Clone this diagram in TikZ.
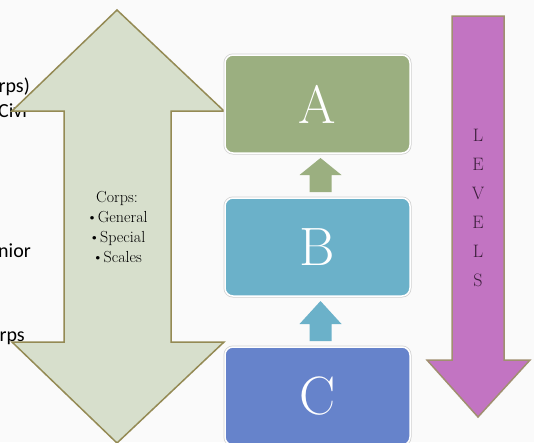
\documentclass[tikz,border=0pt]{standalone}
\usepackage{fontspec}
\newfontfamily\sidefont{Carlito}
\usetikzlibrary{positioning,calc}

\definecolor{corpsfill}{HTML}{D7DFCC}
\definecolor{corpsline}{HTML}{948A54}
\definecolor{levelA}{HTML}{9BAF80}
\definecolor{levelB}{HTML}{6BB1C9}
\definecolor{levelC}{HTML}{6683CB}
\definecolor{levelsfill}{HTML}{C274C2}
\definecolor{levelsline}{HTML}{A08F70}
\definecolor{levelstext}{HTML}{3B1E3B}

\tikzset{
    levelbox/.style={rectangle, rounded corners=8pt, minimum width=185pt, minimum height=98pt,
        inner sep=0pt, outer sep=0pt, draw=white, line width=1.5pt,
        preaction={draw=black!18, line width=3pt},
        text=white, font=\fontsize{54}{54}\selectfont},
    sidetext/.style={font=\sidefont\fontsize{20}{24}\selectfont, inner sep=0pt},
}

\begin{document}
\begin{tikzpicture}[x=1pt,y=1pt]
        \fill[black!2] (0,0) rectangle (534,-442);
        \useasboundingbox (0,0) rectangle (534,-442);

        % text lines running under the big arrow
        \node[sidetext, anchor=base east] (corpsend) at (30,-92) {rps)};
        \node[sidetext, anchor=base west] (civil) at (-2,-117) {Civi};
        \node[sidetext, anchor=base east] (senior) at (31,-257) {nior};
        \node[sidetext, anchor=base east] (corpsbot) at (25,-341) {rps};

        % double arrow with the corps
        \draw[corpsline, fill=corpsfill, line width=1.5pt]
            (117,-10) -- (224,-111) -- (171,-111) -- (171,-342) -- (224,-342)
            -- (117,-443) -- (12,-342) -- (64,-342) -- (64,-111) -- (12,-111) -- cycle;
        \node[align=center, font=\fontsize{16}{20}\selectfont] (corps) at (117,-227)
            {Corps:\\\textbullet General\\\textbullet Special\\\textbullet Scales};

        \node[levelbox, fill=levelA] (A) at (317.5,-104) {A};
        \node[levelbox, fill=levelB, below=45pt of A] (B) {B};
        \node[levelbox, fill=levelC, below=51pt of B] (C) {C};

        \foreach \lo/\hi/\col in {B/A/levelA, C/B/levelB}
            \fill[\col] ($(\lo.north)+(-8,6)$) -- ($(\lo.north)+(-8,23)$) -- ($(\lo.north)+(-18,23)$)
                -- ($(\hi.south)+(3,-5)$) -- ($(\lo.north)+(24,23)$) -- ($(\lo.north)+(14,23)$)
                -- ($(\lo.north)+(14,6)$) -- cycle;

        % levels arrow
        \draw[levelsline, fill=levelsfill, line width=1.5pt]
            (452,-16) -- (504,-16) -- (504,-360) -- (530,-360) -- (478,-417)
            -- (427,-360) -- (452,-360) -- cycle;
        \node[align=center, text=levelstext, font=\fontsize{18}{29}\selectfont] (levels) at (478,-208)
            {L\\E\\V\\E\\L\\S};
    \end{tikzpicture}
\end{document}
